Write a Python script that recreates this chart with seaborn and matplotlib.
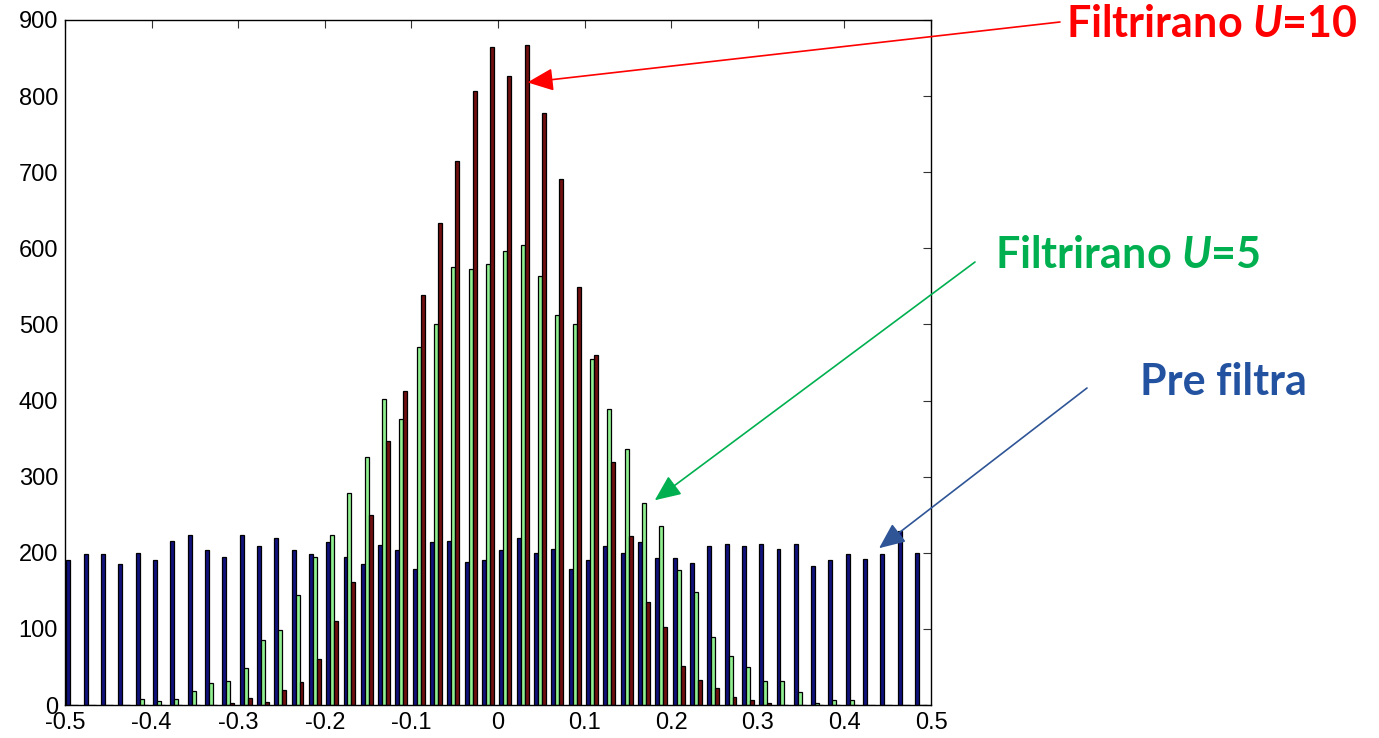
import numpy as np
import pandas as pd
import matplotlib
matplotlib.use("Agg")
import matplotlib.pyplot as plt
import seaborn as sns

# ---- data ----
bin_start = -0.4915
bin_step = 0.02
series_names = ["Pre filtra", "Filtrirano U=5", "Filtrirano U=10"]
pre_filtra = [190, 198, 198, 185, 200, 190, 216, 224, 203, 195,
              224, 209, 219, 203, 198, 214, 195, 185, 210, 203,
              179, 214, 216, 188, 190, 203, 219, 200, 205, 179,
              190, 209, 200, 214, 193, 193, 187, 209, 211, 209,
              211, 205, 211, 182, 190, 198, 192, 198, 229, 200]
filt_u5 = [0, 0, 0, 0, 8, 5, 8, 19, 29, 32,
           48, 85, 98, 145, 195, 224, 279, 326, 402, 376,
           470, 500, 575, 573, 580, 596, 604, 563, 512, 500,
           454, 389, 337, 266, 235, 177, 148, 90, 64, 50,
           32, 32, 17, 3, 6, 6, 0, 0, 0, 0]
filt_u10 = [0, 0, 0, 0, 0, 0, 0, 0, 0, 3,
            9, 4, 20, 30, 61, 111, 161, 250, 347, 412,
            539, 633, 715, 807, 864, 827, 867, 778, 691, 549,
            460, 319, 222, 135, 103, 51, 33, 22, 11, 6,
            3, 0, 0, 0, 0, 0, 0, 0, 0, 0]
x_ticks = [-0.5, -0.4, -0.3, -0.2, -0.1, 0, 0.1, 0.2, 0.3, 0.4, 0.5]
x_tick_labels = ["-0.5", "-0.4", "-0.3", "-0.2", "-0.1", "0", "0.1", "0.2", "0.3", "0.4", "0.5"]
y_ticks = [0, 100, 200, 300, 400, 500, 600, 700, 800, 900]

bar_colors = ["#00008F", "#80FF80", "#800000"]

centers = np.round(bin_start + bin_step * np.arange(len(pre_filtra)), 5)
df = pd.concat([
    pd.DataFrame({"x": centers, "count": vals, "series": name})
    for name, vals in zip(series_names, [pre_filtra, filt_u5, filt_u10])
], ignore_index=True)

sns.set_theme(style="white")
plt.rcParams["font.family"] = ["Liberation Sans", "DejaVu Sans"]
plt.rcParams["axes.unicode_minus"] = False
plt.rcParams["mathtext.fontset"] = "custom"
plt.rcParams["mathtext.it"] = "Lato:italic:bold"
plt.rcParams["mathtext.rm"] = "Lato:bold"

fig = plt.figure(figsize=(13.79, 7.38), dpi=100)
ax = fig.add_axes([65 / 1379, 1 - 705 / 738, 866 / 1379, 685 / 738])

sns.barplot(data=df, x="x", y="count", hue="series", hue_order=series_names,
            palette=bar_colors, native_scale=True, dodge=True, width=0.69,
            gap=0, errorbar=None, edgecolor="black", linewidth=0.9,
            legend=False, ax=ax)

ax.set_xlim(-0.5, 0.5)
ax.set_ylim(0, 900)
ax.set_xticks(x_ticks)
ax.set_xticklabels(x_tick_labels)
ax.set_yticks(y_ticks)
ax.set_xlabel("")
ax.set_ylabel("")
for s in ax.spines.values():
    s.set_visible(True)
    s.set_color("black")
    s.set_linewidth(1.0)
ax.tick_params(axis="both", direction="in", top=True, right=True,
               length=6, width=0.8, color="#333333", labelsize=17,
               labelcolor="black")
ax.tick_params(axis="x", pad=5)
ax.tick_params(axis="y", pad=5)

# ---- annotations ----
label_font = dict(family=["Lato", "DejaVu Sans"], fontweight="bold", fontsize=31)
fig.text(1066 / 1379, 1 - 24 / 738, r"Filtrirano $U$=10", color="#FF0000",
         ha="left", va="center", **label_font)
fig.text(995 / 1379, 1 - 255 / 738, r"Filtrirano $U$=5", color="#00B050",
         ha="left", va="center", **label_font)
fig.text(1140 / 1379, 1 - 382 / 738, "Pre filtra", color="#2352A0",
         ha="left", va="center", **label_font)

arrows = [
    ((1060, 22), (0.034, 818), "#FF0000"),
    ((975, 262), (0.181, 269), "#00B050"),
    ((1087, 388), (0.44, 206), "#2F5597"),
]
for start, tip, col in arrows:
    ax.annotate("", xy=tip, xycoords="data",
                xytext=(start[0] / 1379, 1 - start[1] / 738),
                textcoords="figure fraction",
                arrowprops=dict(arrowstyle="-|>,head_length=0.8,head_width=0.35",
                                color=col, lw=1.2, mutation_scale=20,
                                shrinkA=0, shrinkB=0),
                annotation_clip=False)

fig.savefig("out.png", dpi=100)
